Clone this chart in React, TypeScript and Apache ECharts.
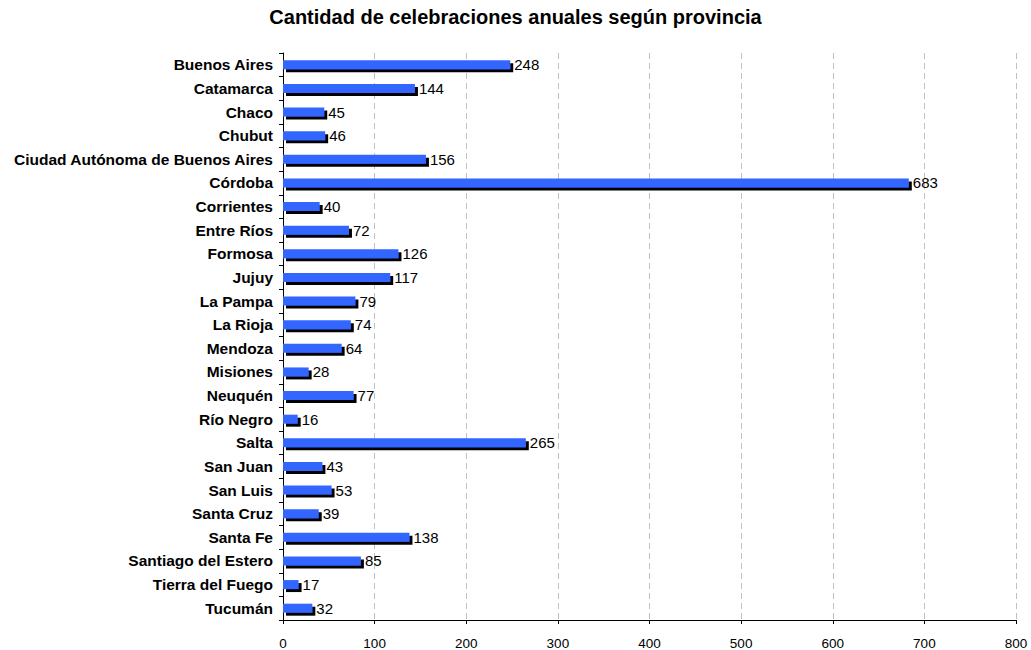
import React, { useEffect, useRef } from "react";
import * as echarts from "echarts";

const titleText = "Cantidad de celebraciones anuales según provincia";
const provinces = [
  "Buenos Aires", "Catamarca", "Chaco", "Chubut", "Ciudad Autónoma de Buenos Aires",
  "Córdoba", "Corrientes", "Entre Ríos", "Formosa", "Jujuy", "La Pampa", "La Rioja",
  "Mendoza", "Misiones", "Neuquén", "Río Negro", "Salta", "San Juan", "San Luis",
  "Santa Cruz", "Santa Fe", "Santiago del Estero", "Tierra del Fuego", "Tucumán",
];
const celebrations = [
  248, 144, 45, 46, 156, 683, 40, 72, 126, 117, 79, 74, 64, 28, 77, 16, 265, 43, 53, 39, 138, 85, 17, 32,
];
const xMin = 0;
const xMax = 800;
const xInterval = 100;

export default function App() {
  const ref = useRef<HTMLDivElement>(null);
  useEffect(() => {
    const chart = echarts.init(ref.current!, undefined, { renderer: "svg" });
    const font = "'Liberation Sans', Arial, sans-serif";
    chart.setOption({
      animation: false,
      backgroundColor: "#ffffff",
      title: {
        text: titleText,
        left: "center",
        top: 2,
        textStyle: { fontFamily: font, fontSize: 20, fontWeight: "bold", color: "#000" },
      },
      grid: { left: 283, right: 15, top: 53, bottom: 30, containLabel: false },
      xAxis: {
        type: "value",
        min: xMin,
        max: xMax,
        interval: xInterval,
        axisLine: { show: true, lineStyle: { color: "#000", width: 1 } },
        axisTick: { show: true, length: 4, lineStyle: { color: "#000" } },
        axisLabel: { fontFamily: font, fontSize: 13.5, color: "#000", margin: 16 },
        splitLine: { show: true, lineStyle: { color: "#c0c0c0", type: [6, 4], width: 1 } },
      },
      yAxis: {
        type: "category",
        data: provinces,
        inverse: true,
        axisLine: { show: true, lineStyle: { color: "#000", width: 1 } },
        axisTick: { show: true, length: 4, alignWithLabel: false, lineStyle: { color: "#000" } },
        axisLabel: { fontFamily: font, fontSize: 15.5, fontWeight: "bold", color: "#000", margin: 10 },
        splitLine: { show: false },
      },
      series: [
        {
          type: "bar",
          data: celebrations,
          barWidth: 9,
          itemStyle: {
            color: "#3366ff",
            shadowColor: "#000000",
            shadowBlur: 0,
            shadowOffsetX: 3,
            shadowOffsetY: 3,
          },
          label: {
            show: true,
            position: "right",
            distance: 4,
            fontFamily: font,
            fontSize: 15,
            color: "#000",
          },
        },
      ],
    });
    return () => chart.dispose();
  }, []);
  return <div ref={ref} style={{ width: 1031, height: 650, position: "absolute", left: 0, top: 0 }} />;
}
